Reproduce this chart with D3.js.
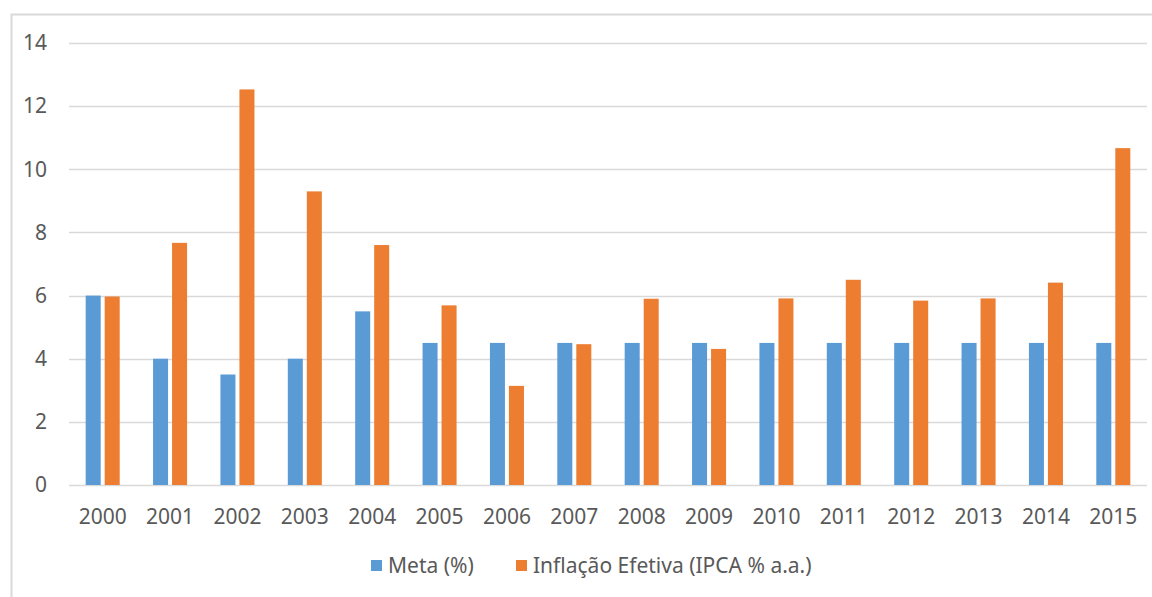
<!DOCTYPE html>
<html>
<head>
<meta charset="utf-8">
<script src="https://cdn.jsdelivr.net/npm/d3@7"></script>
<style>
  body { margin: 0; background: #fff; }
  text { font-family: "Noto Sans", "Open Sans", sans-serif; fill: #595959; }
</style>
</head>
<body>
<div id="chart-area"></div>
<script>
const WIDTH = 1152;
const HEIGHT = 597;

const years = ["2000", "2001", "2002", "2003", "2004", "2005", "2006", "2007",
               "2008", "2009", "2010", "2011", "2012", "2013", "2014", "2015"];
const meta = [6, 4, 3.5, 4, 5.5, 4.5, 4.5, 4.5, 4.5, 4.5, 4.5, 4.5, 4.5, 4.5, 4.5, 4.5];
const ipca = [5.97, 7.67, 12.53, 9.30, 7.60, 5.69, 3.14, 4.46, 5.90, 4.31, 5.91, 6.50, 5.84, 5.91, 6.41, 10.67];
const seriesNames = ["Meta (%)", "Inflação Efetiva (IPCA % a.a.)"];
const seriesColors = ["#5B9BD5", "#ED7D31"];
const yTicks = [0, 2, 4, 6, 8, 10, 12, 14];

const margin = { left: 69, right: 5, top: 43, bottom: 112 };
const innerW = WIDTH - margin.left - margin.right;
const innerH = HEIGHT - margin.top - margin.bottom;
const FONT = "'Noto Sans', 'Open Sans', sans-serif";

const svg = d3.select("#chart-area").append("svg").attr("width", WIDTH).attr("height", HEIGHT);

// chart frame (only left and top edges are visible in the crop)
svg.append("path").attr("d", "M11.5,597 V14.5 H1152")
    .attr("fill", "none").attr("stroke", "#D9D9D9").attr("stroke-width", 2);

const group = svg.append("g").attr("transform", `translate(${margin.left},${margin.top})`);

const x = d3.scaleBand().domain(years).range([0, innerW]).paddingInner(0.495).paddingOuter(0.2475);
const x1 = d3.scaleBand().domain([0, 1]).range([0, x.bandwidth()]).paddingInner(0.21);
const y = d3.scaleLinear().domain([0, 14]).range([innerH, 0]);

// gridlines
group.append("g").selectAll("line").data(yTicks).enter().append("line")
    .attr("x1", 0).attr("x2", innerW)
    .attr("y1", d => Math.round(y(d)) + 0.5).attr("y2", d => Math.round(y(d)) + 0.5)
    .attr("stroke", "#D9D9D9").attr("stroke-width", 1.5);

// y labels
const yAxis = group.append("g").call(d3.axisLeft(y).tickValues(yTicks).tickSize(0).tickPadding(22));
yAxis.select(".domain").remove();
yAxis.selectAll("text").attr("font-size", "21px").style("fill", "#595959").attr("font-family", FONT);

// x labels
const xAxis = group.append("g").attr("transform", `translate(0,${innerH})`)
    .call(d3.axisBottom(x).tickSize(0).tickPadding(24));
xAxis.select(".domain").remove();
xAxis.selectAll("text").attr("font-size", "21px").style("fill", "#595959").attr("font-family", FONT);

// bars
const series = [meta, ipca];
series.forEach((vals, s) => {
    group.append("g").selectAll("rect").data(vals).enter().append("rect")
        .attr("x", (d, i) => x(years[i]) + x1(s))
        .attr("width", x1.bandwidth())
        .attr("y", d => y(d))
        .attr("height", d => innerH - y(d))
        .attr("fill", seriesColors[s]);
});

// legend
const legendItems = [
    { name: seriesNames[0], color: seriesColors[0], x: 371 },
    { name: seriesNames[1], color: seriesColors[1], x: 516 }
];
const legend = svg.append("g").attr("transform", "translate(0,566)");
legendItems.forEach(item => {
    legend.append("rect").attr("x", item.x).attr("y", -6).attr("width", 11).attr("height", 11)
        .attr("fill", item.color);
    legend.append("text").attr("x", item.x + 17).attr("y", 7).attr("font-size", "21px").text(item.name);
});
</script>
</body>
</html>
